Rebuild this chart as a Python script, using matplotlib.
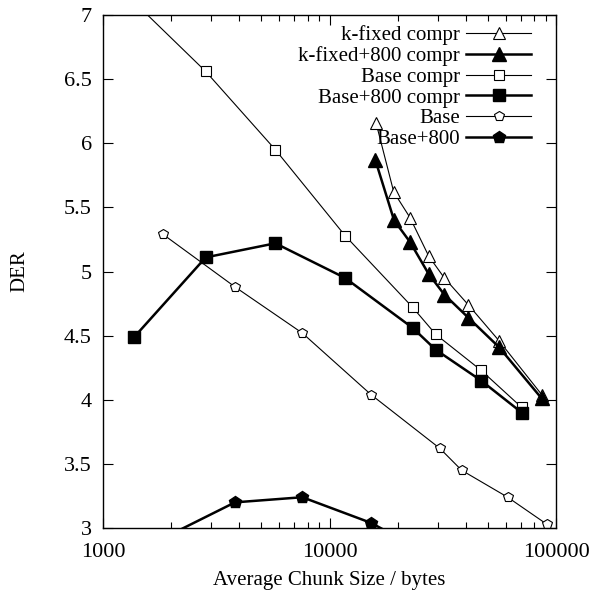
import matplotlib.pyplot as plt
from matplotlib.ticker import LogLocator, NullFormatter, FixedLocator

plt.rcParams['font.family'] = ['Liberation Serif', 'DejaVu Serif']
plt.rcParams['font.size'] = 15

# chunk sizes (bytes) and DER for each configuration
kfixed_x = [16045, 19210, 22670, 27415, 32130, 41010, 56030, 86470]
kfixed_y = [6.16, 5.62, 5.42, 5.12, 4.95, 4.74, 4.46, 4.04]

kfixed800_x = [15930, 19270, 22670, 27415, 32130, 41010, 56030, 86470]
kfixed800_y = [5.87, 5.40, 5.23, 4.98, 4.82, 4.64, 4.41, 4.01]

base_compr_x = [1375, 2840, 5765, 11710, 23300, 29440, 46660, 70560]
base_compr_y = [7.10, 6.56, 5.95, 5.28, 4.72, 4.51, 4.23, 3.94]

base800_compr_x = [1375, 2840, 5765, 11710, 23300, 29440, 46660, 70560]
base800_compr_y = [4.49, 5.11, 5.22, 4.95, 4.56, 4.39, 4.15, 3.90]

base_x = [1840, 3825, 7585, 15250, 30740, 38330, 61180, 90970]
base_y = [5.29, 4.88, 4.52, 4.04, 3.62, 3.45, 3.24, 3.03]

base800_x = [1840, 3825, 7585, 15250, 30740]
base800_y = [2.92, 3.20, 3.24, 3.04, 2.75]

x_ticks = [1000, 10000, 100000]
x_ticklabels = ['1000', '10000', '100000']
y_ticks = [3, 3.5, 4, 4.5, 5, 5.5, 6, 6.5, 7]
y_ticklabels = ['3', '3.5', '4', '4.5', '5', '5.5', '6', '6.5', '7']

fig = plt.figure(figsize=(5.91, 5.93), dpi=100)
ax = fig.add_axes([0.1743, 0.1096, 0.7665, 0.8651])

thin = dict(color='black', lw=0.8)
thick = dict(color='black', lw=1.8)

ax.plot(kfixed_x, kfixed_y, marker='^', ms=8, mfc='white', mec='black', mew=0.8,
        label='k-fixed compr', **thin)
ax.plot(kfixed800_x, kfixed800_y, marker='^', ms=10, mfc='black', mec='black',
        label='k-fixed+800 compr', **thick)
ax.plot(base_compr_x, base_compr_y, marker='s', ms=6.5, mfc='white', mec='black', mew=0.8,
        label='Base compr', **thin)
ax.plot(base800_compr_x, base800_compr_y, marker='s', ms=8.5, mfc='black', mec='black',
        label='Base+800 compr', **thick)
ax.plot(base_x, base_y, marker='p', ms=7.5, mfc='white', mec='black', mew=0.8,
        label='Base', **thin)
ax.plot(base800_x, base800_y, marker='p', ms=9, mfc='black', mec='black',
        label='Base+800', **thick)

ax.set_xscale('log')
ax.set_xlim(1000, 100000)
ax.set_ylim(3, 7)
ax.xaxis.set_major_locator(FixedLocator(x_ticks))
ax.xaxis.set_minor_locator(LogLocator(base=10, subs=range(2, 10)))
ax.xaxis.set_minor_formatter(NullFormatter())
ax.set_xticklabels(x_ticklabels, fontsize=16)
ax.set_yticks(y_ticks)
ax.set_yticklabels(y_ticklabels, fontsize=16)

ax.tick_params(which='both', direction='in', top=True, right=True)
ax.tick_params(which='major', length=7, width=0.8)
ax.tick_params(which='minor', length=4, width=0.8)
ax.tick_params(axis='x', which='major', pad=11)
ax.tick_params(axis='y', which='major', pad=8)
for s in ax.spines.values():
    s.set_linewidth(1.0)

ax.set_xlabel('Average Chunk Size / bytes', labelpad=6)
ax.set_ylabel('DER', labelpad=25)

ax.legend(loc='upper right', frameon=False, markerfirst=False, handlelength=3.1,
          labelspacing=0.05, handletextpad=0.3, borderaxespad=0.3,
          bbox_to_anchor=(0.977, 1.008))

fig.savefig('out.png', dpi=100)
